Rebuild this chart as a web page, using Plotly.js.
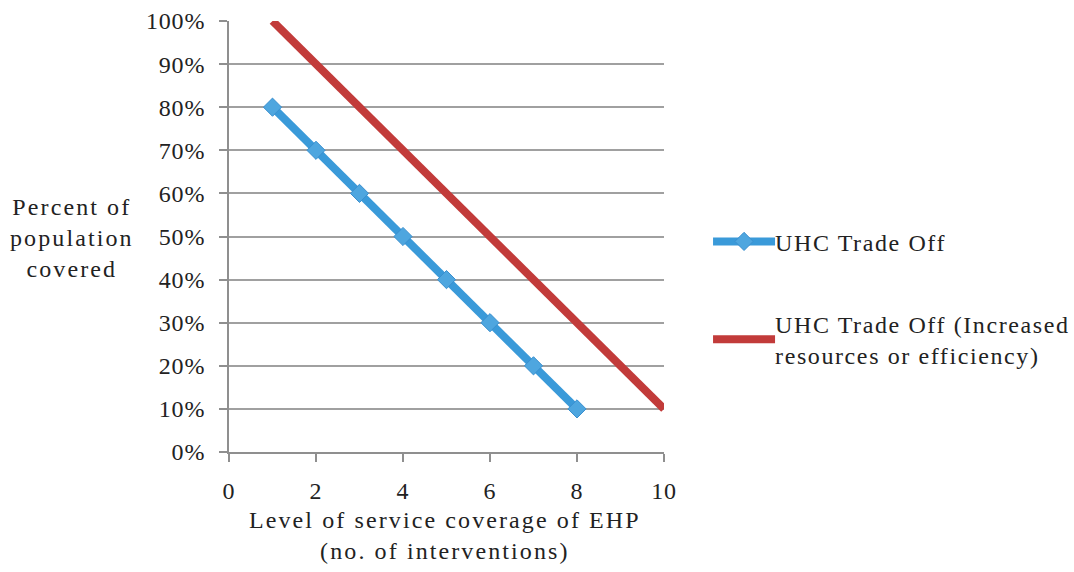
<!DOCTYPE html>
<html>
<head>
<meta charset="utf-8">
<script src="https://cdn.plot.ly/plotly-3.0.1.min.js"></script>
<style>
html,body{margin:0;padding:0;background:#fff;}
#chart{width:1074px;height:572px;}
.legendtext {letter-spacing: 1.6px;}
.annotation-text {letter-spacing: 2.1px;}
.xtick text, .ytick text {letter-spacing: 0.8px;}
</style>
</head>
<body>
<div id="chart"></div>
<script>
var xBase = [1, 2, 3, 4, 5, 6, 7, 8];
var yBase = [0.8, 0.7, 0.6, 0.5, 0.4, 0.3, 0.2, 0.1];
var xInc = [1, 2, 3, 4, 5, 6, 7, 8, 9, 10];
var yInc = [1.0, 0.9, 0.8, 0.7, 0.6, 0.5, 0.4, 0.3, 0.2, 0.1];
var seriesNames = ["UHC Trade Off", "UHC Trade Off (Increased<br>resources or efficiency)"];
var xTicks = [0, 2, 4, 6, 8, 10];
var yTicks = [0, 0.1, 0.2, 0.3, 0.4, 0.5, 0.6, 0.7, 0.8, 0.9, 1.0];

var FONT = "Liberation Serif, DejaVu Serif, serif";
var TXT = "#222";
var data = [
  {x: xBase, y: yBase, name: seriesNames[0], mode: "lines+markers", legendgroup: "a",
   line: {color: "#3a9ad9", width: 8},
   marker: {symbol: "diamond", size: 14, color: "#4ea6df", line: {color: "#3a8fcf", width: 1}}},
  {x: xInc, y: yInc, name: seriesNames[1], mode: "lines", legendgroup: "b",
   line: {color: "#c23b3a", width: 8}}
];
var layout = {
  width: 1074, height: 572,
  margin: {l: 229, r: 410, t: 21, b: 120},
  paper_bgcolor: "#fff", plot_bgcolor: "#fff",
  font: {family: FONT, size: 24, color: TXT},
  showlegend: true,
  legend: {xref: "container", yref: "container", x: 0.6844, y: 0.6166,
           xanchor: "left", yanchor: "top", tracegroupgap: 48,
           font: {family: FONT, size: 24, color: TXT}, bgcolor: "rgba(0,0,0,0)"},
  xaxis: {range: [0, 10], tickvals: xTicks, showgrid: false, zeroline: false,
          showline: true, linecolor: "#8f8f8f", linewidth: 2,
          ticks: "outside", ticklen: 8, tickwidth: 2, tickcolor: "#8f8f8f",
          ticklabelstandoff: 8, tickfont: {family: FONT, size: 24, color: TXT},
          fixedrange: true},
  yaxis: {range: [0, 1], tickvals: yTicks, tickformat: ".0%", showgrid: true,
          gridcolor: "#a0a0a0", gridwidth: 2, zeroline: false,
          showline: true, linecolor: "#8f8f8f", linewidth: 2,
          ticks: "outside", ticklen: 8, tickwidth: 2, tickcolor: "#8f8f8f",
          ticklabelstandoff: 9, tickfont: {family: FONT, size: 24, color: TXT},
          fixedrange: true},
  annotations: [
    {text: "Percent of<br>population<br>covered", xref: "paper", yref: "paper",
     x: -0.36, y: 0.497, xanchor: "center", yanchor: "middle", showarrow: false,
     font: {family: FONT, size: 24, color: TXT}},
    {text: "Level of service coverage of EHP<br>(no. of interventions)", xref: "paper", yref: "paper",
     x: 0.496, y: -0.122, xanchor: "center", yanchor: "top", showarrow: false,
     font: {family: FONT, size: 24, color: TXT}}
  ]
};
Plotly.newPlot("chart", data, layout, {displayModeBar: false, staticPlot: true}).then(function (gd) {
  // let the legend draw its full symbols and labels, and lengthen the line symbols up to the label
  gd.querySelectorAll(".legend [clip-path]").forEach(function (el) { el.removeAttribute("clip-path"); });
  gd.querySelectorAll(".legend .traces").forEach(function (it) {
    it.querySelectorAll(".legendlines path").forEach(function (p) {
      p.setAttribute("d", "M-22,0h62");
    });
    it.querySelectorAll(".legendpoints path").forEach(function (p) {
      p.setAttribute("transform", "translate(9,0)");
    });
  });
});
</script>
</body>
</html>
